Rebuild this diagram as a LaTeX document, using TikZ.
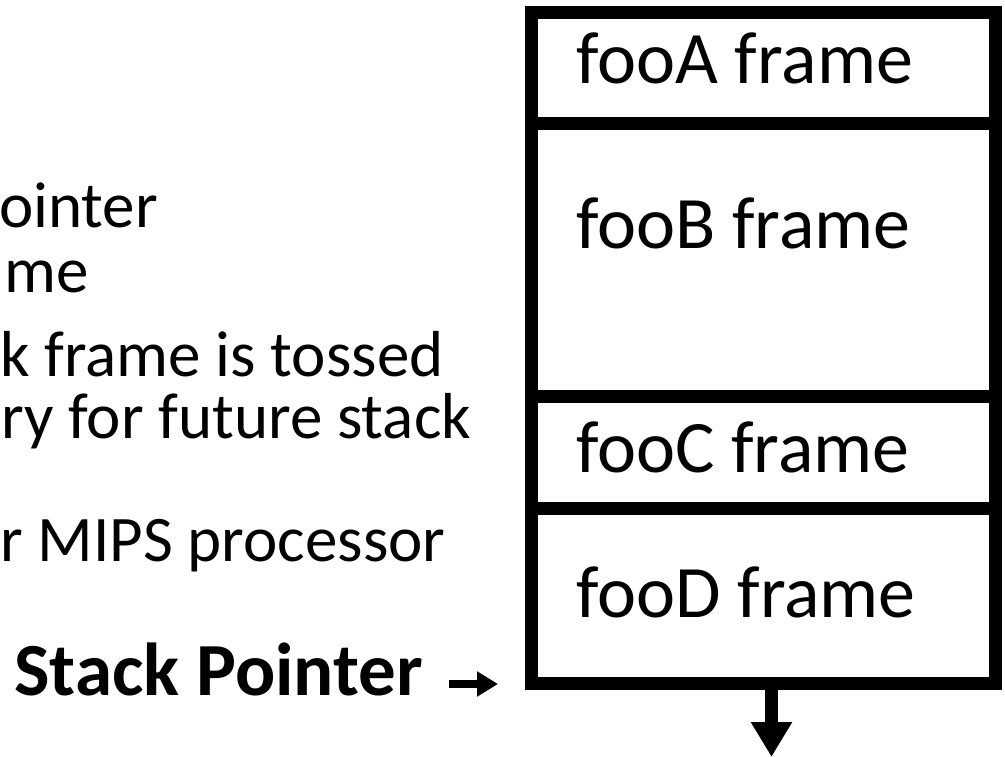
\documentclass[tikz,border=0pt]{standalone}
\usepackage{fontspec}
\setmainfont{Carlito}
\usetikzlibrary{arrows.meta}

\tikzset{
  stackcell/.style={draw=black, line width=13pt, rectangle, inner sep=0pt, outer sep=0pt,
    minimum width=464pt, anchor=north west},
  celltext/.style={anchor=base west, inner sep=0pt, font=\fontsize{74}{82}\selectfont},
  bullettext/.style={anchor=base west, inner sep=0pt, font=\fontsize{65}{72}\selectfont},
  sptext/.style={anchor=base west, inner sep=0pt, font=\fontsize{75}{84}\selectfont\bfseries},
  growarrow/.style={line width=13pt, -{Triangle[width=39pt, length=35pt]}},
  ptrarrow/.style={line width=8pt, -{Triangle[width=24pt, length=21pt]}}
}

\begin{document}
\begin{tikzpicture}[x={(1pt,0)}, y={(0,-1pt)}]
  \useasboundingbox (0,0) rectangle (1005,757);
  \clip (0,0) rectangle (1005,757);
  \fill[white] (0,0) rectangle (1005,757);

  % bullet text on the left (runs off the page edge)
  \node[bullettext] (l1) at (-1,228) {ointer};
  \node[bullettext] (l2) at (4,292) {me};
  \node[bullettext] (l3) at (0,376) {k frame is tossed};
  \node[bullettext] (l4) at (1,438) {ry for future stack};
  \node[bullettext] (l5) at (0,561) {r MIPS processor};

  % the stack of frames
  \node[stackcell, minimum height=111.5pt] (fa) at (531.5,12.5) {};
  \node[stackcell, minimum height=272pt]   (fb) at (531.5,124) {};
  \node[stackcell, minimum height=112pt]   (fc) at (531.5,396) {};
  \node[stackcell, minimum height=175.5pt] (fd) at (531.5,508) {};

  \node[celltext] (ta) at (576,84)  {fooA frame};
  \node[celltext] (tb) at (576,248) {fooB frame};
  \node[celltext] (tc) at (576,472) {fooC frame};
  \node[celltext] (td) at (576,617) {fooD frame};

  % direction of growth
  \coordinate (grow) at (771.5,757);
  \draw[growarrow] (grow |- fd.south) -- (grow);

  % stack pointer marker
  \node[sptext] (sp) at (14,695) {Stack Pointer};
  \coordinate (sptip) at (498,684);
  \draw[ptrarrow, shorten <=26pt] (sp.east |- sptip) -- (sptip);
\end{tikzpicture}
\end{document}
